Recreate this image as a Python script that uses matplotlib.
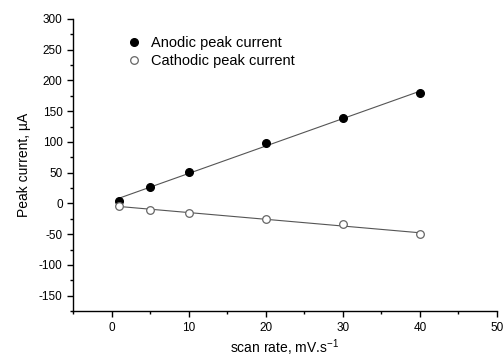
import numpy as np
import matplotlib
matplotlib.use("Agg")
import matplotlib.pyplot as plt
from matplotlib.ticker import MultipleLocator

plt.rcParams['font.family'] = ['Liberation Sans', 'DejaVu Sans']
plt.rcParams['axes.unicode_minus'] = False

scan_rate = [1, 5, 10, 20, 30, 40]
anodic = [4, 27, 51, 98, 139, 179]
cathodic = [-4, -11, -15, -26, -33, -50]

fig = plt.figure(figsize=(5.04, 3.58), dpi=100)
ax = fig.add_axes([0.145, 0.131, 0.841, 0.816])

x = np.array(scan_rate, dtype=float)
for y in (anodic, cathodic):
    p = np.polyfit(x, np.array(y, dtype=float), 1)
    xs = np.array([x.min(), x.max()])
    ax.plot(xs, np.polyval(p, xs), color='#555555', lw=0.8, zorder=1)

ax.plot(x, anodic, 'o', color='black', ms=5.5, label='Anodic peak current', zorder=2)
ax.plot(x, cathodic, 'o', mfc='white', mec='#666666', mew=0.9, ms=5.5,
        label='Cathodic peak current', zorder=2)

ax.set_xlim(-5, 50)
ax.set_ylim(-175, 300)
ax.xaxis.set_major_locator(MultipleLocator(10))
ax.xaxis.set_minor_locator(MultipleLocator(5))
ax.yaxis.set_major_locator(MultipleLocator(50))
ax.yaxis.set_minor_locator(MultipleLocator(25))
ax.set_xticks([0, 10, 20, 30, 40, 50])
ax.set_yticks(list(range(-150, 301, 50)))

for s in ('top', 'right'):
    ax.spines[s].set_visible(False)
for s in ('left', 'bottom'):
    ax.spines[s].set_linewidth(1.0)
ax.tick_params(which='major', direction='out', length=4, width=1, labelsize=8.5, colors='black')
ax.tick_params(which='minor', direction='out', length=2.5, width=1)

ax.set_xlabel('scan rate, mV.s$^{\\mathregular{-1}}$', fontsize=10, labelpad=3)
ax.set_ylabel('Peak current, µA', fontsize=10, labelpad=6)

ax.legend(loc='upper left', bbox_to_anchor=(0.095, 0.985), frameon=False, fontsize=10.5,
          handletextpad=0.7, labelspacing=0.25, handlelength=1.0)

fig.savefig('out.png', dpi=100)
